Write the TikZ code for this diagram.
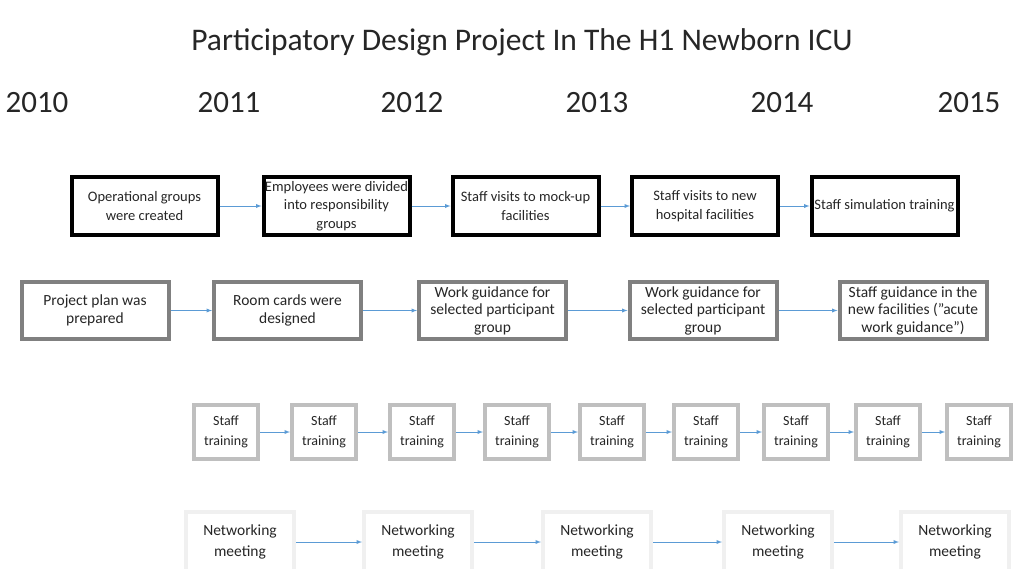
\documentclass[tikz,border=0pt]{standalone}
\usepackage{fontspec}
\setmainfont{Carlito}
\usetikzlibrary{calc}

\definecolor{flowblue}{HTML}{5B9BD5}
\definecolor{inkgray}{HTML}{262626}

\begin{document}
\begin{tikzpicture}[x=1pt,y=-1pt,
  every node/.style={text=inkgray,align=center,inner sep=0pt},
  obox/.style={draw=black,line width=4pt,minimum width=146pt,minimum height=58pt,font=\fontsize{14.5}{18.5}\selectfont},
  pbox/.style={draw=black!50,line width=4pt,minimum width=147pt,minimum height=57pt,font=\fontsize{15.5}{17.5}\selectfont},
  tbox/.style={draw=black!25,line width=4pt,minimum width=64pt,minimum height=54pt,font=\fontsize{14}{20}\selectfont},
  mbox/.style={draw=black!6,line width=4pt,minimum width=108pt,minimum height=60pt,font=\fontsize{15.5}{21}\selectfont},
  flow/.style={draw=flowblue,line width=0.9pt,-latex}]
  \useasboundingbox[fill=white] (0,0) rectangle (1014,568);
  \node[font=\fontsize{31.5}{36}\selectfont] (title) at (522,42) {Participatory Design Project In The H1 Newborn ICU};
  \node[font=\fontsize{31}{36}\selectfont] (y0) at (37,103) {2010};
  \node[font=\fontsize{31}{36}\selectfont] (y1) at (229,103) {2011};
  \node[font=\fontsize{31}{36}\selectfont] (y2) at (412,103) {2012};
  \node[font=\fontsize{31}{36}\selectfont] (y3) at (597,103) {2013};
  \node[font=\fontsize{31}{36}\selectfont] (y4) at (782,103) {2014};
  \node[font=\fontsize{31}{36}\selectfont] (y5) at (969,103) {2015};
  % operational groups row
  \node[obox] (o1) at (144.5,206) {Operational groups\\were created};
  \node[obox] (o2) at (336.5,206) {Employees were divided\\into responsibility\\groups};
  \node[obox] (o3) at (525.5,206) {Staff visits to mock-up\\facilities};
  \node[obox] (o4) at (705,206) {Staff visits to new\\hospital facilities};
  \node[obox] (o5) at (884.5,206) {Staff simulation training};
  \draw[flow] (o1) -- (o2);
  \draw[flow] (o2) -- (o3);
  \draw[flow] (o3) -- (o4);
  \draw[flow] (o4) -- (o5);
  % planning and guidance row
  \node[pbox] (p1) at (95,310.5) {Project plan was\\prepared};
  \node[pbox] (p2) at (287.5,310.5) {Room cards were\\designed};
  \node[pbox] (p3) at (492.5,310.5) {Work guidance for\\selected participant\\group};
  \node[pbox] (p4) at (703,310.5) {Work guidance for\\selected participant\\group};
  \node[pbox] (p5) at (913,310.5) {Staff guidance in the\\new facilities (”acute\\work guidance”)};
  \draw[flow] (p1) -- (p2);
  \draw[flow] (p2) -- (p3);
  \draw[flow] (p3) -- (p4);
  \draw[flow] (p4) -- (p5);
  % staff training row
  \node[tbox] (t1) at (226,432) {Staff\\training};
  \node[tbox] (t2) at (324,432) {Staff\\training};
  \node[tbox] (t3) at (422,432) {Staff\\training};
  \node[tbox] (t4) at (517,432) {Staff\\training};
  \node[tbox] (t5) at (612,432) {Staff\\training};
  \node[tbox] (t6) at (706,432) {Staff\\training};
  \node[tbox] (t7) at (796,432) {Staff\\training};
  \node[tbox] (t8) at (888,432) {Staff\\training};
  \node[tbox] (t9) at (979,432) {Staff\\training};
  \draw[flow] (t1) -- (t2);
  \draw[flow] (t2) -- (t3);
  \draw[flow] (t3) -- (t4);
  \draw[flow] (t4) -- (t5);
  \draw[flow] (t5) -- (t6);
  \draw[flow] (t6) -- (t7);
  \draw[flow] (t7) -- (t8);
  \draw[flow] (t8) -- (t9);
  % networking row
  \node[mbox] (m1) at (240,542) {Networking\\meeting};
  \node[mbox] (m2) at (418,542) {Networking\\meeting};
  \node[mbox] (m3) at (597,542) {Networking\\meeting};
  \node[mbox] (m4) at (778,542) {Networking\\meeting};
  \node[mbox] (m5) at (955,542) {Networking\\meeting};
  \draw[flow] (m1) -- (m2);
  \draw[flow] (m2) -- (m3);
  \draw[flow] (m3) -- (m4);
  \draw[flow] (m4) -- (m5);
\end{tikzpicture}
\end{document}
